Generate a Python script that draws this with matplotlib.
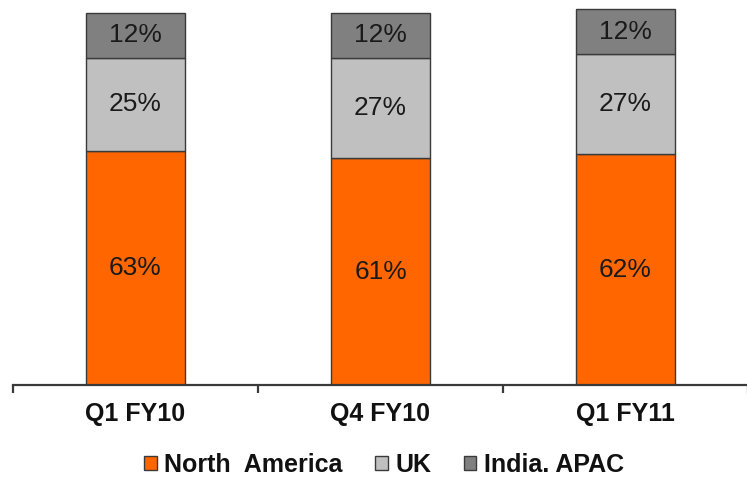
import matplotlib
matplotlib.use("Agg")
import matplotlib.pyplot as plt
import numpy as np

# Revenue mix by geography, per quarter (percent)
quarters = ["Q1 FY10", "Q4 FY10", "Q1 FY11"]
north_america = [63, 61, 62]
uk = [25, 27, 27]
india_apac = [12, 12, 12]

series = [
    ("North  America", north_america, "#FF6600"),
    ("UK", uk, "#C0C0C0"),
    ("India. APAC", india_apac, "#808080"),
]

plt.rcParams["font.family"] = ["Liberation Sans", "DejaVu Sans"]

fig = plt.figure(figsize=(7.47, 4.83), dpi=100)
ax = fig.add_axes([13 / 747, 98 / 483, 735 / 747, (385 - 5.6) / 483])

x = np.arange(len(quarters))
bottom = np.zeros(len(quarters))
handles = []
for name, vals, color in series:
    vals = np.array(vals, dtype=float)
    bars = ax.bar(x, vals, width=0.405, bottom=bottom, color=color,
                  edgecolor="#3a3a3a", linewidth=1.0, label=name, zorder=2)
    handles.append(bars)
    for xi, b, v in zip(x, bottom, vals):
        ax.text(xi, b + v / 2, f"{int(v)}%", ha="center", va="center",
                fontsize=19, color="#1a1a1a", zorder=3)
    bottom += vals

ax.set_xlim(-0.5, 2.5)
ax.set_ylim(0, 102)

for side in ("left", "right", "top"):
    ax.spines[side].set_visible(False)
ax.spines["bottom"].set_color("#3a3a3a")
ax.spines["bottom"].set_linewidth(1.6)
ax.yaxis.set_visible(False)

# Ticks mark category boundaries; labels sit at the category centres
ax.set_xticks(np.arange(-0.5, len(quarters), 1.0))
ax.set_xticklabels([])
ax.tick_params(axis="x", which="major", direction="out", length=6,
               width=1.6, color="#3a3a3a")
ax.set_xticks(x, minor=True)
ax.set_xticklabels(quarters, minor=True, fontsize=18, fontweight="bold",
                   color="#111111")
ax.tick_params(axis="x", which="minor", length=0, pad=12)

leg = fig.legend(handles=handles, loc="center", bbox_to_anchor=(384 / 747, 1 - 465 / 483),
                 ncol=3, frameon=False, handlelength=0.5, handleheight=0.5,
                 handletextpad=0.3, columnspacing=1.3, borderaxespad=0,
                 prop={"size": 18, "weight": "bold"})
for t in leg.get_texts():
    t.set_color("#111111")

fig.savefig("out.png", dpi=100)
